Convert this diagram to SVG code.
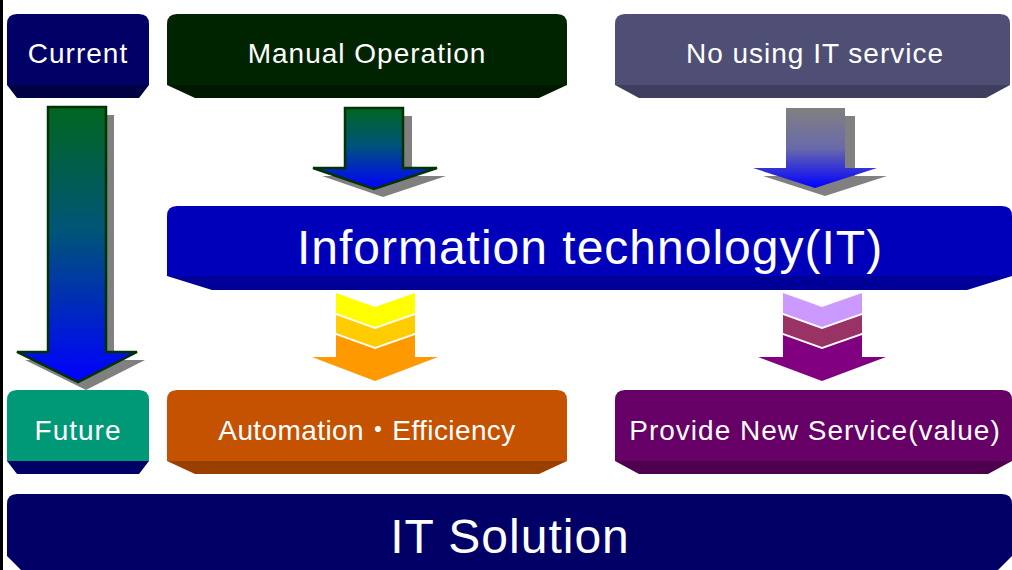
<svg xmlns="http://www.w3.org/2000/svg" width="1012" height="570" viewBox="0 0 1012 570">
<defs>
<style>
.lbl{font-family:"Liberation Sans","Noto Sans CJK JP",sans-serif;fill:#fff;text-anchor:middle;font-size:28px;letter-spacing:1px}
.big{font-size:48px}
.tight{letter-spacing:0.4px}
.shadow{fill:#808080}
.gs{stroke:#003300;stroke-width:2.5;stroke-linejoin:miter}
</style>
<linearGradient id="gGreen" x1="0" y1="0" x2="0" y2="1">
<stop offset="0" stop-color="#006620"/>
<stop offset="0.45" stop-color="#005577"/>
<stop offset="1" stop-color="#0000ff"/>
</linearGradient>
<linearGradient id="gGray" x1="0" y1="0" x2="0" y2="1">
<stop offset="0" stop-color="#808080"/>
<stop offset="0.5" stop-color="#6a6aaa"/>
<stop offset="1" stop-color="#0000ff"/>
</linearGradient>
</defs>
<rect width="1012" height="570" fill="#fff"/>
<rect x="0" y="0" width="3" height="570" fill="#000"/>

<g id="connectors">
<g id="arrow-current-future">
<path class="shadow" transform="translate(8,8)" d="M48,107 H106 V352 H137 L78,382 L17,352 H48 Z"/>
<path class="gs" fill="url(#gGreen)" d="M48,107 H106 V352 H137 L78,382 L17,352 H48 Z"/>
</g>
<g id="arrow-manual-it">
<path class="shadow" transform="translate(9,8)" d="M345,108 H403 V168 H437 L374,189 L313,168 H345 Z"/>
<path class="gs" fill="url(#gGreen)" d="M345,108 H403 V168 H437 L374,189 L313,168 H345 Z"/>
</g>
<g id="arrow-noit-it">
<path class="shadow" transform="translate(10,8)" d="M786,108 H845 V168 H877 L815,188 L753,168 H786 Z"/>
<path fill="url(#gGray)" d="M786,108 H845 V168 H877 L815,188 L753,168 H786 Z"/>
</g>
<g id="arrow-it-automation">
<path fill="#ffff00" d="M336,293 L375,307 L415,293 V313 L375,327 L336,313 Z"/>
<path fill="#ffcc00" d="M336,315 L375,329 L415,315 V333 L375,347 L336,333 Z"/>
<path fill="#ff9900" d="M336,335 L375,349 L415,335 V357 H438 L375,381 L312,357 H336 Z"/>
</g>
<g id="arrow-it-provide">
<path fill="#cc99ff" d="M783,293 L822,307 L862,293 V313 L822,327 L783,313 Z"/>
<path fill="#993366" d="M783,315 L822,329 L862,315 V333 L822,347 L783,333 Z"/>
<path fill="#800080" d="M783,335 L822,349 L862,335 V357 H886 L822,381 L758,357 H783 Z"/>
</g>
</g>

<g id="node-current">
<path fill="#000044" d="M7,85 H149 L139,98 H17 Z"/>
<path fill="#000066" d="M7,24 Q7,14 17,14 H139 Q149,14 149,24 V85 H7 Z"/>
<text class="lbl" x="78" y="63">Current</text>
</g>
<g id="node-manual">
<path fill="#001800" d="M167,85 H567 L539,98 H195 Z"/>
<path fill="#002400" d="M167,24 Q167,14 177,14 H557 Q567,14 567,24 V85 H167 Z"/>
<text class="lbl" x="367" y="63">Manual Operation</text>
</g>
<g id="node-noit">
<path fill="#3e3e5e" d="M615,85 H1010 L986,98 H639 Z"/>
<path fill="#4f4f75" d="M615,24 Q615,14 625,14 H1000 Q1010,14 1010,24 V85 H615 Z"/>
<text class="lbl" x="815" y="63">No using IT service</text>
</g>
<g id="node-it">
<path fill="#000099" d="M167,276 H1012 L967,290 H212 Z"/>
<path fill="#0000bb" d="M167,216 Q167,206 177,206 H1002 Q1012,206 1012,216 V276 H167 Z"/>
<text class="lbl big" x="590" y="264">Information technology(IT)</text>
</g>
<g id="node-future">
<path fill="#000066" d="M7,461 H149 L139,474 H17 Z"/>
<path fill="#009977" d="M7,400 Q7,390 17,390 H139 Q149,390 149,400 V461 H7 Z"/>
<text class="lbl" x="78" y="440">Future</text>
</g>
<g id="node-automation">
<path fill="#9a3f00" d="M167,461 H567 L539,474 H195 Z"/>
<path fill="#c55200" d="M167,400 Q167,390 177,390 H557 Q567,390 567,400 V461 H167 Z"/>
<text class="lbl tight" x="367" y="440">Automation・Efficiency</text>
</g>
<g id="node-provide">
<path fill="#4d004d" d="M615,461 H1012 L988,474 H639 Z"/>
<path fill="#660066" d="M615,400 Q615,390 625,390 H1002 Q1012,390 1012,400 V461 H615 Z"/>
<text class="lbl" x="815" y="440">Provide New Service(value)</text>
</g>
<g id="node-solution">
<path fill="#000066" d="M7,504 Q7,494 17,494 H1002 Q1012,494 1012,504 V556 L996,572 H23 L7,556 Z"/>
<text class="lbl big" x="510" y="553">IT Solution</text>
</g>
</svg>
